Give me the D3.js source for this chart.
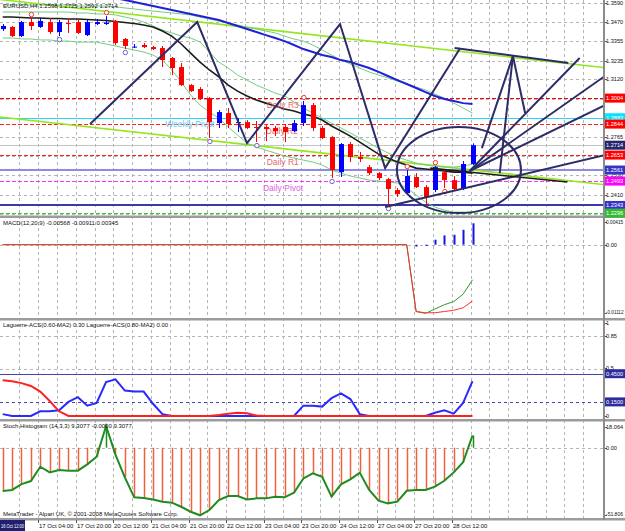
<!DOCTYPE html>
<html>
<head>
<meta charset="utf-8">
<script src="https://cdn.jsdelivr.net/npm/d3@7/dist/d3.min.js"></script>
<style>
  body { margin: 0; background: #fff; }
  svg text { font-family: "Liberation Sans", Arial, sans-serif; }
</style>
</head>
<body>
<div class="chart"></div>
<script>
// ---- data (EURUSD H4, 16 Oct 12:00 .. 28 Oct 20:00) ----
var open  = [1.3429,1.3442,1.3386,1.3472,1.3442,1.3472,1.3411,1.3466,1.3472,1.3392,1.3460,1.3460,1.3479,1.3368,1.3315,1.3331,1.3318,1.3312,1.3251,1.3195,1.3084,1.3060,1.3004,1.2850,1.2912,1.2850,1.2856,1.2826,1.2826,1.2820,1.2826,1.2801,1.2850,1.2961,1.2820,1.2764,1.2548,1.2721,1.2641,1.2579,1.2542,1.2505,1.2438,1.2419,1.2518,1.2456,1.2438,1.2548,1.2499,1.2444,1.2598];
var high  = [1.3460,1.3448,1.3479,1.3497,1.3497,1.3497,1.3485,1.3497,1.3485,1.3485,1.3491,1.3509,1.3485,1.3374,1.3337,1.3343,1.3325,1.3325,1.3257,1.3220,1.3091,1.3072,1.3010,1.2930,1.2943,1.2881,1.2869,1.2863,1.2838,1.2832,1.2844,1.2869,1.2986,1.2973,1.2832,1.2770,1.2727,1.2733,1.2672,1.2592,1.2548,1.2512,1.2450,1.2561,1.2542,1.2468,1.2585,1.2561,1.2524,1.2616,1.2725];
var low   = [1.3417,1.3380,1.3380,1.3423,1.3436,1.3399,1.3386,1.3405,1.3399,1.3386,1.3454,1.3454,1.3331,1.3306,1.3312,1.3312,1.3300,1.3195,1.3146,1.3078,1.3041,1.2992,1.2758,1.2820,1.2820,1.2795,1.2813,1.2733,1.2739,1.2770,1.2733,1.2795,1.2832,1.2801,1.2752,1.2512,1.2518,1.2610,1.2610,1.2530,1.2499,1.2345,1.2395,1.2407,1.2450,1.2339,1.2425,1.2450,1.2438,1.2438,1.2592];
var close = [1.3448,1.3386,1.3472,1.3448,1.3479,1.3411,1.3472,1.3460,1.3405,1.3472,1.3472,1.3469,1.3343,1.3325,1.3321,1.3318,1.3306,1.3238,1.3189,1.3084,1.3047,1.2998,1.2856,1.2918,1.2844,1.2856,1.2820,1.2820,1.2813,1.2801,1.2795,1.2850,1.2961,1.2820,1.2758,1.2561,1.2721,1.2641,1.2629,1.2542,1.2512,1.2444,1.2413,1.2524,1.2456,1.2395,1.2579,1.2499,1.2444,1.2598,1.2714];

// moving averages / bands on the price chart
var maBlack  = [1.3503,1.3503,1.3500,1.3497,1.3497,1.3494,1.3494,1.3491,1.3491,1.3488,1.3485,1.3482,1.3476,1.3469,1.3463,1.3454,1.3442,1.3417,1.3386,1.3337,1.3281,1.3226,1.3177,1.3134,1.3084,1.3047,1.3017,1.2992,1.2973,1.2955,1.2937,1.2924,1.2906,1.2893,1.2869,1.2832,1.2801,1.2770,1.2733,1.2696,1.2659,1.2635,1.2610,1.2592,1.2573,1.2567,1.2561,1.2555,1.2548,1.2548,1.2542];
var maBlue   = [1.3793,1.3774,1.3762,1.3744,1.3731,1.3713,1.3700,1.3682,1.3670,1.3651,1.3639,1.3626,1.3620,1.3608,1.3596,1.3583,1.3571,1.3559,1.3546,1.3534,1.3522,1.3509,1.3497,1.3485,1.3466,1.3448,1.3429,1.3411,1.3392,1.3374,1.3355,1.3331,1.3306,1.3288,1.3269,1.3257,1.3238,1.3226,1.3208,1.3189,1.3165,1.3140,1.3115,1.3091,1.3066,1.3041,1.3017,1.2998,1.2986,1.2973,1.2967];
var bandUp   = [1.3577,1.3577,1.3577,1.3577,1.3577,1.3577,1.3577,1.3577,1.3571,1.3571,1.3571,1.3571,1.3565,1.3559,1.3553,1.3546,1.3540,1.3534,1.3528,1.3522,1.3516,1.3503,1.3491,1.3479,1.3466,1.3454,1.3442,1.3429,1.3417,1.3405,1.3386,1.3368,1.3355,1.3331,1.3300,1.3269,1.3238,1.3214,1.3189,1.3165,1.3146,1.3128,1.3109,1.3091,1.3072,1.3054,1.3029,1.3004,1.2973,1.2943,1.2912];
var bandLow  = [1.3374,1.3374,1.3368,1.3368,1.3362,1.3362,1.3355,1.3355,1.3349,1.3349,1.3349,1.3337,1.3325,1.3312,1.3300,1.3288,1.3269,1.3238,1.3177,1.3103,1.3023,1.2961,1.2918,1.2881,1.2826,1.2776,1.2727,1.2703,1.2684,1.2666,1.2647,1.2635,1.2622,1.2610,1.2592,1.2561,1.2542,1.2524,1.2512,1.2499,1.2493,1.2487,1.2481,1.2450,1.2407,1.2364,1.2333,1.2314,1.2302,1.2302,1.2302];
var maGreen  = [1.3534,1.3534,1.3534,1.3534,1.3534,1.3534,1.3534,1.3534,1.3528,1.3528,1.3522,1.3522,1.3516,1.3503,1.3491,1.3472,1.3448,1.3423,1.3405,1.3386,1.3374,1.3349,1.3288,1.3226,1.3189,1.3146,1.3115,1.3084,1.3060,1.3035,1.3017,1.2980,1.2943,1.2912,1.2881,1.2850,1.2820,1.2789,1.2758,1.2727,1.2696,1.2666,1.2641,1.2622,1.2604,1.2592,1.2585,1.2579,1.2579,1.2585,1.2598];

// fractal markers (bar index)
var fracUp = [3, 11, 32, 43, 46];
var fracDown = [6, 13, 22, 27, 35, 41];
var fracDownRed = [47];

// horizontal levels (price, right-hand tag)
var levelPrices = [1.3004, 1.2883, 1.2844, 1.2714, 1.2653, 1.2561, 1.2493, 1.2343, 1.2296];
var levelTags   = ["1.3004", "1.2883", "1.2844", "1.2714", "1.2653", "1.2561", "1.2493", "1.2343", "1.2296"];
var pivotNames  = ["Daily R3", "Weekly Pivot", "Daily R2", "Daily R1", "Daily Pivot"];
var pivotPrices = [1.3004, 1.2883, 1.2844, 1.2653, 1.2493];
var pivotBars   = [28.1, 17.3, 28.0, 28.1, 27.7];

// hand drawn objects: [bar index, price]
var zigzag = [[9.3, 1.2844], [20.7, 1.3472], [26.0, 1.2727], [35.9, 1.3460], [40.7, 1.2573], [48.7, 1.3312]];
var topLine = [[48.1, 1.3312], [60.2, 1.3220]];
var apex = [54.3, 1.3263];
var apexLegs = [[51.0, 1.2696], [52.9, 1.2542], [55.6, 1.2912]];
var fanOrigin = [49.7, 1.2555];
var fanEnds = [[61.4, 1.3251], [64.1, 1.3140], [64.1, 1.2961]];
var supportLine = [[40.7, 1.2333], [64.1, 1.2653]];
var flatLine = [[45.5, 1.2573], [60.1, 1.2487]];
var channelUp = [[-0.3, 1.3611], [66.2, 1.3177]];
var channelLow = [[-0.3, 1.2888], [66.2, 1.2457]];
var circleCenter = [48.56, 1.2561];
var circleSpan = [6.6, 0.0265];

// price axis ticks
var priceTicks = [1.3590, 1.3470, 1.3355, 1.3235, 1.3120, 1.3000, 1.2880, 1.2765, 1.2645, 1.2530, 1.2410, 1.2290];

// MACD(12,20,9)
var macdHist   = [0,0,0,0,0,0,0,0,0,0,0,0,0,0,0,0,0,0,0,0,0,0,0,0,0,0,0,0,0,0,0,0,0,0,0,0,0,0,0,0,0,0,0,0,-0.0003,-0.0002,0.0008,0.0015,0.0016,0.0024,0.00345];
var macdMain   = [0,0,0,0,0,0,0,0,0,0,0,0,0,0,0,0,0,0,0,0,0,0,0,0,0,0,0,0,0,0,0,0,0,0,0,0,0,0,0,0,0,0,0,0,-0.0108,-0.0111,-0.0104,-0.0097,-0.0092,-0.0080,-0.00568];
var macdSignal = [0,0,0,0,0,0,0,0,0,0,0,0,0,0,0,0,0,0,0,0,0,0,0,0,0,0,0,0,0,0,0,0,0,0,0,0,0,0,0,0,0,0,0,0,-0.0108,-0.0110,-0.0110,-0.0108,-0.0106,-0.0102,-0.00911];

// Laguerre-ACS
var lagFast = [0.02,0,0,0,0.05,0.05,0.06,0.15,0.20,0.11,0.14,0.36,0.39,0.27,0.26,0.26,0.13,0.02,0,0,0,0,0,0,0,0,0,0,0,0,0,0,0.11,0.11,0.10,0.19,0.24,0.18,0.02,0,0,0,0,0,0,0,0.035,0.06,0.025,0.14,0.37];
var lagSlow = [0.38,0.37,0.35,0.32,0.26,0.16,0.05,0,0,0,0,0,0,0,0,0,0,0,0,0,0,0,0,0.01,0.025,0.035,0.03,0.005,0,0,0,0,0,0,0,0,0,0,0,0,0,0,0,0,0,0,0,0,0,0,0];
var lagLevels = [0.45, 0.15];

// Stoch Histogram (14,3,3)
var stochHist = [-33.0,-32.2,-27.7,-25.4,-14.5,-18.8,-17.0,-17.5,-17.5,-12.7,-6.9,16.5,-5.3,-22.6,-37.8,-38.3,-39.4,-41.1,-41.9,-45.0,-48.8,-51.5,-47.5,-39.9,-36.8,-36.8,-39.4,-38.6,-38.6,-37.3,-37.8,-34.3,-23.4,-19.5,-22.1,-37.3,-27.9,-24.1,-19.0,-32.2,-40.4,-42.4,-41.1,-32.8,-32.2,-32.2,-29.7,-25.2,-18.8,-11.1,9.31];

// time axis
var timeBars = [4, 8, 12, 16, 20, 24, 28, 32, 36, 40, 44, 48];
var timeLabels = ["17 Oct 04:00", "17 Oct 20:00", "20 Oct 12:00", "21 Oct 04:00", "21 Oct 20:00", "22 Oct 12:00", "23 Oct 04:00", "23 Oct 20:00", "24 Oct 12:00", "27 Oct 04:00", "27 Oct 20:00", "28 Oct 12:00"];

// ---- layout ----
var svgWidth = 625;
var svgHeight = 531;
var plotRight = 603;

var svg = d3.select(".chart")
  .append("svg")
  .attr("width", svgWidth)
  .attr("height", svgHeight)
  .style("display", "block");

var x = d3.scaleLinear().domain([0, 50]).range([2.7, 472.5]);
var yMain = d3.scaleLinear().domain([1.2278, 1.3608]).range([216, 0]);
var yMacd = d3.scaleLinear().domain([-0.01112, 0.00415]).range([313.5, 219]);
var yLag = d3.scaleLinear().domain([0, 1]).range([416, 322]);
var yStoch = d3.scaleLinear().domain([-51.806, 18.064]).range([515.7, 424]);

var panels = [
  { id: "cMain", top: 0, bottom: 216 },
  { id: "cMacd", top: 219, bottom: 318 },
  { id: "cLag", top: 321, bottom: 419 },
  { id: "cStoch", top: 422, bottom: 518 }
];

var defs = svg.append("defs");
panels.forEach(function(p) {
  defs.append("clipPath").attr("id", p.id)
    .append("rect").attr("x", 0).attr("y", p.top).attr("width", plotRight).attr("height", p.bottom - p.top);
});

var gridColor = "#b4b4b4";

// vertical grid every 2 bars through all panels
var grid = svg.append("g");
d3.range(2, 64, 2).forEach(function(i) {
  var gx = Math.round(x(i) - 2) + 0.5;
  if (gx > plotRight - 2) return;
  grid.append("line")
    .attr("x1", gx).attr("x2", gx).attr("y1", 0).attr("y2", 518)
    .attr("stroke", gridColor).attr("stroke-dasharray", "3,3");
});

function hGrid(yPos) {
  grid.append("line")
    .attr("x1", 0).attr("x2", plotRight).attr("y1", Math.round(yPos) + 0.5).attr("y2", Math.round(yPos) + 0.5)
    .attr("stroke", gridColor).attr("stroke-dasharray", "3,3");
}
priceTicks.forEach(function(p) { hGrid(yMain(p)); });
hGrid(yMacd(0));
[0.85, 0.5].forEach(function(v) { hGrid(yLag(v)); });
hGrid(yStoch(0));

// ---- main chart ----
var main = svg.append("g").attr("clip-path", "url(#cMain)");

var priceLine = function(arr) {
  return d3.line().x(function(d, i) { return x(i); }).y(function(d) { return yMain(d); })(arr);
};
var ptLine = function(pts) {
  return d3.line().x(function(d) { return x(d[0]); }).y(function(d) { return yMain(d[1]); })(pts);
};

// horizontal levels
var levelStyle = [
  { stroke: "#ff0000", dash: "4,2", w: 1, tag: "#ff0000" },
  { stroke: "#22d8f0", dash: null, w: 1, tag: "#00e4ff" },
  { stroke: "#ff2020", dash: "4,2", w: 1, tag: "#ff0000" },
  { stroke: "#c4c4c4", dash: null, w: 1, tag: "#262670" },
  { stroke: "#ff2020", dash: "4,2", w: 1, tag: "#ff0000" },
  { stroke: "#8c8ce6", dash: null, w: 2, tag: "#3434c8" },
  { stroke: "#ff33ff", dash: "4,2", w: 1, tag: "#ff00ff" },
  { stroke: "#3a3aa8", dash: null, w: 2, tag: "#3434c8" },
  { stroke: "#33cc33", dash: "4,2", w: 1, tag: "#33bb33" }
];
levelPrices.forEach(function(p, k) {
  var st = levelStyle[k];
  var ly = Math.round(yMain(p)) + (st.w === 1 ? 0.5 : 0);
  main.append("line")
    .attr("x1", 0).attr("x2", plotRight).attr("y1", ly).attr("y2", ly)
    .attr("stroke", st.stroke).attr("stroke-width", st.w)
    .attr("stroke-dasharray", st.dash);
});

// lime channel
[channelUp, channelLow].forEach(function(c) {
  main.append("path").attr("d", ptLine(c))
    .attr("fill", "none").attr("stroke", "#94e61e").attr("stroke-width", 1.6);
});

// bands and averages
[bandUp, bandLow, maGreen].forEach(function(arr) {
  main.append("path").attr("d", priceLine(arr))
    .attr("fill", "none").attr("stroke", "#74cc84").attr("stroke-width", 1);
});
main.append("path").attr("d", priceLine(maBlue))
  .attr("fill", "none").attr("stroke", "#2020d8").attr("stroke-width", 2);
main.append("path").attr("d", priceLine(maBlack))
  .attr("fill", "none").attr("stroke", "#1c1c1c").attr("stroke-width", 1.6);

// pivot texts
var pivotColors = ["#e46a6a", "#5cc8f0", "#e46a6a", "#e46a6a", "#e060e0"];
pivotNames.forEach(function(n, k) {
  main.append("text")
    .attr("x", x(pivotBars[k])).attr("y", yMain(pivotPrices[k]) + 9.5)
    .attr("font-size", "8.5px").attr("fill", pivotColors[k])
    .text(n);
});

// candles
var candles = main.selectAll("g.candle")
  .data(open.map(function(o, i) { return { i: i, o: o, h: high[i], l: low[i], c: close[i] }; }))
  .enter().append("g").attr("class", "candle");

candles.append("line")
  .attr("x1", function(d) { return Math.round(x(d.i)) + 0.5; })
  .attr("x2", function(d) { return Math.round(x(d.i)) + 0.5; })
  .attr("y1", function(d) { return yMain(d.h); })
  .attr("y2", function(d) { return yMain(d.l); })
  .attr("stroke", function(d) { return d.c >= d.o ? "#0000ff" : "#ff0000"; });

candles.append("rect")
  .attr("x", function(d) { return Math.round(x(d.i)) - 2; })
  .attr("width", 5)
  .attr("y", function(d) { return yMain(Math.max(d.o, d.c)); })
  .attr("height", function(d) { return Math.max(1, Math.abs(yMain(d.o) - yMain(d.c))); })
  .attr("fill", function(d) { return d.c >= d.o ? "#0000ff" : "#ff0000"; });

// fractals
function ring(i, yPos, color) {
  main.append("circle")
    .attr("cx", x(i) + 0.5).attr("cy", yPos).attr("r", 2.2)
    .attr("fill", "#fff").attr("stroke", color).attr("stroke-width", 1);
}
fracUp.forEach(function(i) { ring(i, yMain(high[i]) - 3.5, "#ff3030"); });
fracDown.forEach(function(i) { ring(i, yMain(low[i]) + 3.5, "#7a5cd0"); });
fracDownRed.forEach(function(i) { ring(i, yMain(low[i]) + 3.5, "#ff3030"); });

// hand drawn lines
var navy = "#2c2c68";
function drawn(pts) {
  main.append("path").attr("d", ptLine(pts))
    .attr("fill", "none").attr("stroke", navy).attr("stroke-width", 2);
}
drawn(zigzag);
drawn(topLine);
apexLegs.forEach(function(e) { drawn([apex, e]); });
fanEnds.forEach(function(e) { drawn([fanOrigin, e]); });
drawn(supportLine);
main.append("path").attr("d", ptLine(flatLine))
  .attr("fill", "none").attr("stroke", "#1c1c1c").attr("stroke-width", 1.6);

main.append("ellipse")
  .attr("cx", x(circleCenter[0]))
  .attr("cy", yMain(circleCenter[1]))
  .attr("rx", x(circleCenter[0] + circleSpan[0]) - x(circleCenter[0]))
  .attr("ry", yMain(circleCenter[1] - circleSpan[1]) - yMain(circleCenter[1]))
  .attr("fill", "none").attr("stroke", navy).attr("stroke-width", 2);

// ---- MACD panel ----
var macd = svg.append("g").attr("clip-path", "url(#cMacd)");
var macdLine = function(arr) {
  return d3.line().x(function(d, i) { return x(i); }).y(function(d) { return yMacd(d); })(arr);
};
macd.append("path").attr("d", macdLine(macdMain))
  .attr("fill", "none").attr("stroke", "#2e9a2e").attr("stroke-width", 1);
macd.append("path").attr("d", macdLine(macdSignal))
  .attr("fill", "none").attr("stroke", "#ff3030").attr("stroke-width", 1);
macd.selectAll("rect.h")
  .data(macdHist.map(function(v, i) { return { i: i, v: v }; }).filter(function(d) { return d.v !== 0; }))
  .enter().append("rect")
  .attr("x", function(d) { return Math.round(x(d.i)) - 0.5; })
  .attr("width", 2)
  .attr("y", function(d) { return Math.min(yMacd(d.v), yMacd(0)); })
  .attr("height", function(d) { return Math.abs(yMacd(d.v) - yMacd(0)); })
  .attr("fill", "#1414e6");

// ---- Laguerre panel ----
var lag = svg.append("g").attr("clip-path", "url(#cLag)");
var lagLine = function(arr) {
  return d3.line().x(function(d, i) { return x(i); }).y(function(d) { return yLag(d); })(arr);
};
lagLevels.forEach(function(v, k) {
  var ly = Math.round(yLag(v)) + 0.5;
  lag.append("line")
    .attr("x1", 0).attr("x2", plotRight).attr("y1", ly).attr("y2", ly)
    .attr("stroke", "#4444aa").attr("stroke-dasharray", k === 1 ? "3,3" : null);
});
lag.append("path").attr("d", lagLine(lagFast))
  .attr("fill", "none").attr("stroke", "#2a2aff").attr("stroke-width", 2);
lag.append("path").attr("d", lagLine(lagSlow))
  .attr("fill", "none").attr("stroke", "#ff2020").attr("stroke-width", 2);

// ---- Stoch histogram panel ----
var stoch = svg.append("g").attr("clip-path", "url(#cStoch)");
stochHist.forEach(function(v, i) {
  stoch.append("line")
    .attr("x1", Math.round(x(i)) + 0.5).attr("x2", Math.round(x(i)) + 0.5)
    .attr("y1", yStoch(0)).attr("y2", yStoch(v))
    .attr("stroke", v >= 0 ? "#1e8c1e" : "#f0603c").attr("stroke-width", 1.5);
});
stoch.append("path")
  .attr("d", d3.line().x(function(d, i) { return x(i); }).y(function(d) { return yStoch(d); })(stochHist))
  .attr("fill", "none").attr("stroke", "#1e8c1e").attr("stroke-width", 2);

// ---- frames ----
[216.5, 319, 420, 519].forEach(function(sy) {
  svg.append("rect").attr("x", 0).attr("y", sy - 1).attr("width", svgWidth).attr("height", 2.5).attr("fill", "#9c9c9c");
});
svg.append("rect").attr("x", plotRight).attr("y", 0).attr("width", 2).attr("height", 520).attr("fill", "#8c8c8c");

// ---- right axis labels ----
var axisG = svg.append("g");
var labelMax = 17.5;
// shrink the font of a right-hand label until it fits beside the axis
function fitText(t) {
  var size = 5.6;
  t.attr("font-size", size + "px");
  while (t.node().getComputedTextLength() > labelMax && size > 3.5) {
    size -= 0.2;
    t.attr("font-size", size + "px");
  }
}
function rightLabel(yPos, txt) {
  axisG.append("line")
    .attr("x1", plotRight + 2).attr("x2", plotRight + 4).attr("y1", Math.round(yPos) + 0.5).attr("y2", Math.round(yPos) + 0.5)
    .attr("stroke", "#555");
  fitText(axisG.append("text").attr("x", 606).attr("y", yPos).attr("dy", "0.35em").attr("fill", "#111").text(txt));
}
function tag(yPos, txt, color) {
  axisG.append("rect").attr("x", plotRight + 2).attr("y", yPos - 4.5).attr("width", 22).attr("height", 9).attr("fill", color);
  fitText(axisG.append("text").attr("x", 606).attr("y", yPos).attr("dy", "0.35em").attr("fill", "#fff").text(txt));
}
priceTicks.forEach(function(p) { rightLabel(yMain(p), d3.format(".4f")(p)); });
levelPrices.forEach(function(p, k) { tag(yMain(p), levelTags[k], levelStyle[k].tag); });

rightLabel(yMacd(0.00415) + 3, "0.00415");
rightLabel(yMacd(0), "0.00");
rightLabel(yMacd(-0.01112) - 1, "-0.01112");

rightLabel(yLag(1) + 1, "1");
rightLabel(yLag(0.85), "0.85");
rightLabel(yLag(0.5) - 1, "0.5");
tag(yLag(0.45), "0.4500", "#2c2ca0");
tag(yLag(0.15), "0.1500", "#2c2ca0");
rightLabel(yLag(0), "0");

rightLabel(yStoch(18.064) + 3, "18.064");
rightLabel(yStoch(0), "0.00");
rightLabel(yStoch(-51.806) - 1, "-51.806");

// ---- panel captions ----
var cap = svg.append("g").attr("font-size", "6px").attr("fill", "#111");
cap.append("text").attr("x", 3).attr("y", 8).text("EURUSD,H4  1.2598 1.2725 1.2592 1.2714");
cap.append("text").attr("x", 3).attr("y", 225).text("MACD(12,20,9) -0.00568 -0.00911 0.00345");
cap.append("text").attr("x", 3).attr("y", 327).text("Laguerre-ACS(0.60-MA2) 0.30  Laguerre-ACS(0.80-MA2) 0.00");
cap.append("text").attr("x", 3).attr("y", 428).text("Stoch Histogram (14,3,3) 9.3077 -0.0000 9.3077");
cap.append("text").attr("x", 3).attr("y", 516).text("MetaTrader - Alpari UK, \u00a9 2001-2008 MetaQuotes Software Corp.");

// ---- time axis ----
var tAxis = svg.append("g").attr("font-size", "6px").attr("fill", "#111");
tAxis.append("rect").attr("x", 0).attr("y", 520).attr("width", 25).attr("height", 11).attr("fill", "#202070");
tAxis.append("text").attr("x", 1).attr("y", 528).attr("fill", "#fff")
  .attr("textLength", 23).attr("lengthAdjust", "spacingAndGlyphs").text("16 Oct 12:00");
timeBars.forEach(function(b, k) {
  var tx = Math.round(x(b) - 2) + 0.5;
  tAxis.append("line").attr("x1", tx).attr("x2", tx).attr("y1", 520).attr("y2", 523).attr("stroke", "#555");
  tAxis.append("text").attr("x", tx + 0.5).attr("y", 528).text(timeLabels[k]);
});
</script>
</body>
</html>
